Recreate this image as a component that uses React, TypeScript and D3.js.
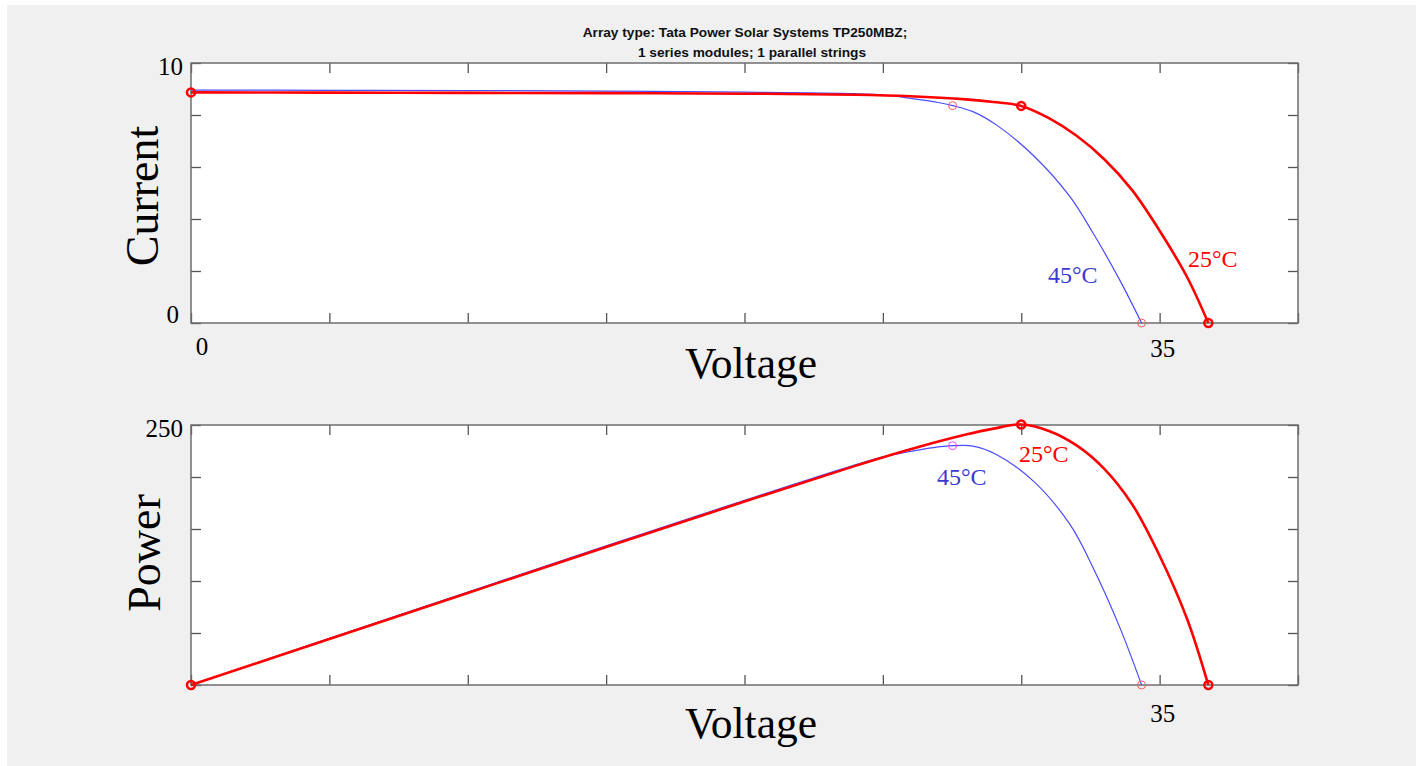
import React, { useEffect, useRef } from 'react'
import * as d3 from 'd3'

// 25°C curve
const v25 = [0, 5, 10, 15, 20, 24, 26, 28, 29, 30, 31, 32, 33, 34, 35, 36, 36.76]
const i25 = [8.87, 8.86, 8.85, 8.84, 8.82, 8.78, 8.72, 8.6, 8.5, 8.35, 7.88, 7.2, 6.3, 5.12, 3.55, 1.75, 0]
const p25 = [0, 44.3, 88.5, 132.6, 176.4, 210.7, 226.7, 240.8, 246.5, 250.5, 244.3, 230.4, 207.9, 174.1, 124.3, 63.0, 0]

// 45°C curve
const v45 = [0, 5, 10, 15, 20, 24, 25, 26, 27, 27.52, 28.25, 29.1, 30.42, 31.76, 32.6, 33.56, 34.35]
const i45 = [8.96, 8.95, 8.94, 8.92, 8.88, 8.82, 8.77, 8.64, 8.48, 8.36, 8.13, 7.62, 6.46, 4.86, 3.45, 1.65, 0]
const p45 = [0, 44.8, 89.4, 133.8, 177.6, 211.7, 219.3, 224.6, 229.0, 230.1, 229.7, 221.7, 196.5, 154.4, 112.5, 55.4, 0]

const xTicks = [0, 5, 10, 15, 20, 25, 30, 35, 40]
const iTicks = [0, 2, 4, 6, 8, 10]
const pTicks = [0, 50, 100, 150, 200, 250]

const titleLines = ['Array type: Tata Power Solar Systems TP250MBZ;', '1 series modules; 1 parallel strings']

export default function App() {
  const svgRef = useRef<SVGSVGElement>(null)
  const W = 1416, H = 766

  useEffect(() => {
    const svg = d3.select(svgRef.current)
    svg.selectAll('*').remove()

    svg.append('rect').attr('width', W).attr('height', H).attr('fill', '#ffffff')
    svg.append('rect').attr('x', 7).attr('y', 5).attr('width', W - 7).attr('height', H - 5).attr('fill', '#f0f0f0')

    const left = 191, right = 1298
    const x = d3.scaleLinear().domain([0, 40]).range([left, right])
    const yI = d3.scaleLinear().domain([0, 10]).range([323, 63])
    const yP = d3.scaleLinear().domain([0, 250]).range([685, 425])

    // title
    svg.append('g').selectAll('text').data(titleLines).join('text')
      .attr('x', (d, k) => k === 0 ? 745 : 752)
      .attr('y', (d, k) => k === 0 ? 36.5 : 57)
      .attr('text-anchor', 'middle')
      .attr('font-family', 'Liberation Sans, Arial, sans-serif')
      .attr('font-weight', 'bold')
      .attr('font-size', 13.7)
      .attr('fill', '#111')
      .text(d => d)

    const drawPanel = (y: d3.ScaleLinear<number, number>, yt: number[]) => {
      const [y0, y1] = y.range()
      const g = svg.append('g')
      g.append('rect').attr('x', left).attr('y', y1).attr('width', right - left).attr('height', y0 - y1)
        .attr('fill', '#ffffff')

      const tick = (sel: any) => {
        sel.select('.domain').remove()
        sel.selectAll('line').attr('stroke', '#555').attr('stroke-width', 1.3)
      }
      g.append('g').attr('transform', `translate(0,${y0})`)
        .call(d3.axisBottom(x).tickValues(xTicks).tickSize(-10).tickFormat(() => '')).call(tick)
      g.append('g').attr('transform', `translate(0,${y1})`)
        .call(d3.axisTop(x).tickValues(xTicks).tickSize(-10).tickFormat(() => '')).call(tick)
      g.append('g').attr('transform', `translate(${left},0)`)
        .call(d3.axisLeft(y).tickValues(yt).tickSize(-10).tickFormat(() => '')).call(tick)
      g.append('g').attr('transform', `translate(${right},0)`)
        .call(d3.axisRight(y).tickValues(yt).tickSize(-10).tickFormat(() => '')).call(tick)

      g.append('rect').attr('x', left).attr('y', y1).attr('width', right - left).attr('height', y0 - y1)
        .attr('fill', 'none').attr('stroke', '#6e6e6e').attr('stroke-width', 1.5)
      return g
    }

    const serif = 'Liberation Serif, Times New Roman, serif'
    const label = (tx: number, ty: number, txt: string, size: number, fill = '#000', anchor = 'middle', rot = 0) => {
      svg.append('text')
        .attr('transform', `translate(${tx},${ty}) rotate(${rot})`)
        .attr('text-anchor', anchor)
        .attr('font-family', serif)
        .attr('font-size', size)
        .attr('fill', fill)
        .text(txt)
    }

    const series = (g: any, xs: number[], ys: number[], y: d3.ScaleLinear<number, number>, color: string, w: number) => {
      const line = d3.line<number>()
        .x((d, k) => x(xs[k]))
        .y(d => y(d))
        .curve(d3.curveCatmullRom.alpha(0.5))
      g.append('path').datum(ys).attr('d', line)
        .attr('fill', 'none').attr('stroke', color).attr('stroke-width', w)
        .attr('stroke-linejoin', 'round')
    }

    const marker = (g: any, vx: number, vy: number, y: d3.ScaleLinear<number, number>, color: string, w: number) => {
      g.append('circle').attr('cx', x(vx)).attr('cy', y(vy)).attr('r', 4)
        .attr('fill', 'none').attr('stroke', color).attr('stroke-width', w)
    }

    const mpp45 = v45.indexOf(27.52)
    const mpp25 = v25.indexOf(30)

    // ---- current panel
    const gI = drawPanel(yI, iTicks)
    series(gI, v45, i45, yI, '#4b4bff', 1.2)
    series(gI, v25, i25, yI, '#ff0000', 2.6)
    marker(gI, v45[mpp45], i45[mpp45], yI, '#ff5a5a', 1)
    marker(gI, v45[v45.length - 1], 0, yI, '#ff5a5a', 1)
    marker(gI, 0, i25[0], yI, '#ff0000', 2.5)
    marker(gI, v25[mpp25], i25[mpp25], yI, '#ff0000', 2.5)
    marker(gI, v25[v25.length - 1], 0, yI, '#ff0000', 2.5)

    label(left - 8, yI(10) + 12, '10', 25, '#000', 'end')
    label(left - 12, yI(0), '0', 25, '#000', 'end')
    label(x(0) + 11, 355, '0', 25)
    label(x(35) + 3, 357, '35', 25)
    label(751, 378, 'Voltage', 43.5)
    label(158, 196, 'Current', 46, '#000', 'middle', -90)
    label(1048, 283, '45°C', 24, '#3a3ad0', 'start')
    label(1188, 267, '25°C', 24, '#ff0000', 'start')

    // ---- power panel
    const gP = drawPanel(yP, pTicks)
    series(gP, v45, p45, yP, '#4b4bff', 1.2)
    series(gP, v25, p25, yP, '#ff0000', 2.6)
    marker(gP, v45[mpp45], p45[mpp45], yP, '#ff44ff', 1)
    marker(gP, v45[v45.length - 1], 0, yP, '#ff5a5a', 1)
    marker(gP, 0, 0, yP, '#ff0000', 2.5)
    marker(gP, v25[mpp25], p25[mpp25], yP, '#ff0000', 2.5)
    marker(gP, v25[v25.length - 1], 0, yP, '#ff0000', 2.5)

    label(left - 8, yP(250) + 12, '250', 25, '#000', 'end')
    label(x(35) + 3, 722, '35', 25)
    label(751, 738, 'Voltage', 43.5)
    label(160, 553, 'Power', 46, '#000', 'middle', -90)
    label(937, 485, '45°C', 24, '#3a3ad0', 'start')
    label(1019, 462, '25°C', 24, '#ff0000', 'start')
  }, [])

  return (
    <svg ref={svgRef} width={W} height={H} style={{ position: 'absolute', left: 0, top: 0 }} />
  )
}
